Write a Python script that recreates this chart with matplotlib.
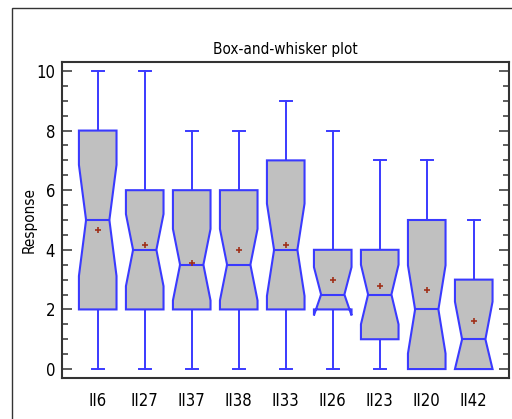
import matplotlib
matplotlib.use("Agg")
import matplotlib.pyplot as plt
from matplotlib.patches import Rectangle
from matplotlib.ticker import MultipleLocator

plt.rcParams['font.family'] = ['DejaVu Sans']
plt.rcParams['font.stretch'] = 'condensed'

# ---------------- data ----------------
labels = ['II6', 'II27', 'II37', 'II38', 'II33', 'II26', 'II23', 'II20', 'II42']
whislo = [0, 0, 0, 0, 0, 0, 0, 0, 0]
q1 = [2, 2, 2, 2, 2, 2, 1, 0, 0]
med = [5, 4, 3.5, 3.5, 4, 2.5, 2.5, 2, 1]
q3 = [8, 6, 6, 6, 7, 4, 4, 5, 3]
whishi = [10, 10, 8, 8, 9, 8, 7, 7, 5]
means = [4.65, 4.15, 3.55, 4.0, 4.15, 3.0, 2.8, 2.65, 1.6]
cilo = [3.12, 2.78, 2.3, 2.3, 2.45, 1.8, 1.5, 0.52, 0.0]
cihi = [6.85, 5.2, 4.7, 4.7, 5.55, 3.42, 3.5, 3.48, 2.26]

line_col = '#3a3aff'
fill_col = '#c0c0c0'
mean_col = '#a0301a'

fig = plt.figure(figsize=(5.12, 4.19), dpi=100)
# outer frame
fig.patches.append(Rectangle((12 / 512, -0.1), 1.2, 1 - 8 / 419 + 0.1,
                             transform=fig.transFigure, fill=False,
                             edgecolor='#333333', linewidth=1.0))
ax = fig.add_axes([62 / 512, 1 - 378 / 419, (509 - 62) / 512, (378 - 62) / 419])

hw = 0.4          # half box width
nw = hw * 0.62    # half width at the notch
cw = 0.13         # half cap width
for i in range(len(labels)):
    p = i + 1
    xs = [p - hw, p + hw, p + hw, p + nw, p + hw, p + hw, p - hw, p - hw, p - nw, p - hw, p - hw]
    ys = [q1[i], q1[i], cilo[i], med[i], cihi[i], q3[i], q3[i], cihi[i], med[i], cilo[i], q1[i]]
    ax.fill(xs, ys, facecolor=fill_col, edgecolor=line_col, linewidth=1.5, zorder=2)
    ax.plot([p - nw, p + nw], [med[i], med[i]], color=line_col, lw=1.5, zorder=3)
    # whiskers and caps
    ax.plot([p, p], [whislo[i], q1[i]], color=line_col, lw=1.4, zorder=1)
    ax.plot([p, p], [q3[i], whishi[i]], color=line_col, lw=1.4, zorder=1)
    ax.plot([p - cw, p + cw], [whislo[i], whislo[i]], color=line_col, lw=1.4)
    ax.plot([p - cw, p + cw], [whishi[i], whishi[i]], color=line_col, lw=1.4)
    ax.plot(p, means[i], marker='+', color=mean_col, markersize=4, mew=1.2, zorder=4)

ax.set_xlim(0.24, 9.75)
ax.set_ylim(-0.3, 10.3)
ax.set_xticks(range(1, len(labels) + 1))
ax.set_xticklabels(labels)
ax.yaxis.set_major_locator(MultipleLocator(2))
ax.yaxis.set_minor_locator(MultipleLocator(0.5))
ax.tick_params(axis='x', length=0, pad=10, labelsize=12)
ax.tick_params(axis='y', which='both', direction='in', left=True, right=True,
               color='#333333', width=1.1, labelsize=12, pad=5)
ax.tick_params(axis='y', which='major', length=7)
ax.tick_params(axis='y', which='minor', length=4.5)
for s in ax.spines.values():
    s.set_color('#333333')
    s.set_linewidth(1.5)

ax.set_title('Box-and-whisker plot', fontsize=11, pad=6)
ax.set_ylabel('Response', fontsize=11)
ax.yaxis.set_label_coords(-0.056, 0.5)

plt.savefig('out.png', dpi=100)
